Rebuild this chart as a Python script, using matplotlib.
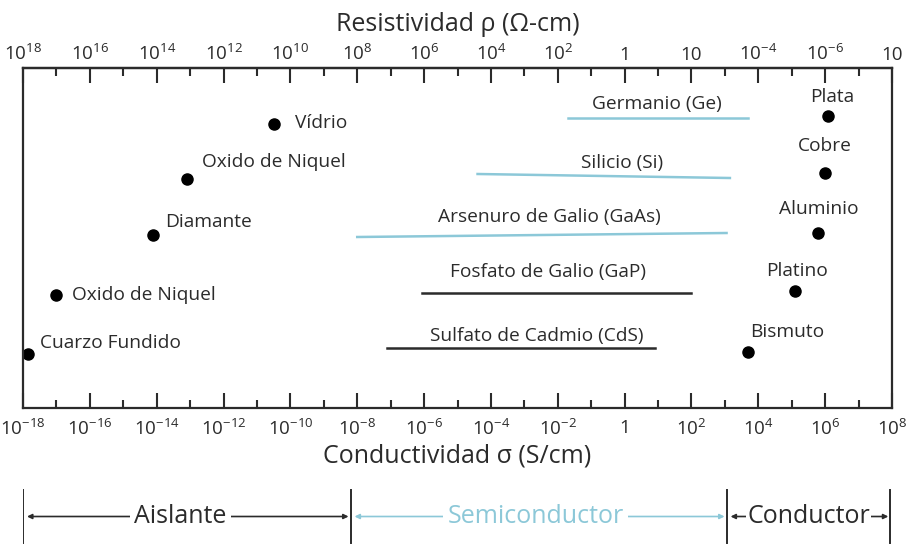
import numpy as np
import matplotlib
matplotlib.use("Agg")
import matplotlib.pyplot as plt

plt.rcParams['font.family'] = ['Open Sans', 'DejaVu Sans']
plt.rcParams['mathtext.fontset'] = 'custom'
plt.rcParams['mathtext.rm'] = 'Open Sans'
plt.rcParams['mathtext.it'] = 'Open Sans'
plt.rcParams['mathtext.bf'] = 'Open Sans'

#Data: log10 conductivity (S/cm) and row position (0 = top of box, 340 = bottom)
point_names = ['Vídrio', 'Oxido de Niquel', 'Diamante', 'Oxido de Niquel', 'Cuarzo Fundido',
               'Plata', 'Cobre', 'Aluminio', 'Platino', 'Bismuto']
point_x = [-10.5, -13.1, -14.1, -17.0, -17.85, 6.1, 6.0, 5.8, 5.1, 3.7]
point_y = [56, 111, 167, 227, 286, 48, 105, 165, 223, 284]
point_label_x = [-9.87, -12.65, -13.76, -16.54, -17.49, 6.2, 6.0, 5.8, 5.15, 4.85]
point_label_y = [55, 94, 154, 227, 275, 29, 78, 141, 203, 264]
point_label_ha = ['left'] * 5 + ['center'] * 5

band_names = ['Germanio (Ge)', 'Silicio (Si)', 'Arsenuro de Galio (GaAs)',
              'Fosfato de Galio (GaP)', 'Sulfato de Cadmio (CdS)']
band_start = [-1.7, -4.4, -8.0, -6.05, -7.1]
band_end = [3.7, 3.15, 3.05, 2.0, 0.9]
band_y_start = [50, 106, 169, 225, 280]
band_y_end = [50, 110, 165, 225, 280]
band_label_x = [0.98, -0.07, -2.25, -2.28, -2.64]
band_label_y = [36, 95, 149, 204, 268]
band_semi = [True, True, True, False, False]

bottom_ticks = list(range(-18, 9, 2))
bottom_labels = ['$10^{-18}$', '$10^{-16}$', '$10^{-14}$', '$10^{-12}$', '$10^{-10}$', '$10^{-8}$',
                 '$10^{-6}$', '$10^{-4}$', '$10^{-2}$', '1', '$10^{2}$', '$10^{4}$', '$10^{6}$', '$10^{8}$']
top_labels = ['$10^{18}$', '$10^{16}$', '$10^{14}$', '$10^{12}$', '$10^{10}$', '$10^{8}$', '$10^{6}$',
              '$10^{4}$', '$10^{2}$', '1', '10', '$10^{-4}$', '$10^{-6}$', '10']

regions = ['Aislante', 'Semiconductor', 'Conductor']
region_bounds = [-18, -8.2, 3.05, 7.95]
region_text_x = [-13.3, -2.67, 5.5]

blue = '#8cc8d8'
dark = '#2b2b2b'

fig = plt.figure(figsize=(9.15, 5.44), dpi=100)
ax = fig.add_axes([23/915, 1 - 408/544, 869/915, 340/544])
ax.set_xlim(-18, 8)
ax.set_ylim(340, 0)
for s in ax.spines.values():
    s.set_linewidth(1.6)
    s.set_color(dark)

ax.set_xticks(bottom_ticks, labels=bottom_labels)
ax.set_xticks(range(-17, 8, 2), minor=True)
ax.set_yticks([])
ax.tick_params(axis='x', which='major', direction='in', length=11, width=1.5, pad=8,
               labelsize=13.5, colors=dark)
ax.tick_params(axis='x', which='minor', direction='in', length=6, width=1.5, colors=dark)
ax.set_xlabel('Conductividad σ (S/cm)', fontsize=18, color=dark, labelpad=3)

top = ax.secondary_xaxis('top')
top.set_xticks(bottom_ticks, labels=top_labels)
top.set_xticks(range(-17, 8, 2), minor=True)
top.tick_params(axis='x', which='major', direction='in', length=11, width=1.5, pad=3,
                labelsize=13.5, colors=dark)
top.tick_params(axis='x', which='minor', direction='in', length=6, width=1.5, colors=dark)
top.spines['top'].set_linewidth(1.6)
top.set_xlabel('Resistividad ρ (Ω-cm)', fontsize=18, color=dark, labelpad=9)

#Points
ax.plot(point_x, point_y, 'o', color='black', markersize=8, clip_on=False)
for i in range(len(point_names)):
    ax.text(point_label_x[i], point_label_y[i], point_names[i], ha=point_label_ha[i],
            va='center', fontsize=13.8, color=dark)

#Bands
for i in range(len(band_names)):
    c = blue if band_semi[i] else dark
    ax.plot([band_start[i], band_end[i]], [band_y_start[i], band_y_end[i]], color=c, linewidth=1.8)
    ax.text(band_label_x[i], band_label_y[i], band_names[i], ha='center', va='center',
            fontsize=13.8, color=dark)

#Region brackets under the chart
rax = fig.add_axes([23/915, 0, 869/915, 55/544])
rax.set_xlim(-18, 8)
rax.set_ylim(0, 1)
rax.axis('off')
for b in region_bounds:
    rax.plot([b, b], [0.02, 0.98], color=dark, linewidth=1.4)
colors = [dark, blue, dark]
for i in range(3):
    x0 = region_bounds[i] + 0.12
    x1 = region_bounds[i + 1] - 0.06
    rax.annotate('', xy=(x0, 0.5), xytext=(x1, 0.5),
                 arrowprops=dict(arrowstyle='<|-|>', color=colors[i], lw=1.2,
                                 mutation_scale=7, shrinkA=0, shrinkB=0))
    rax.text(region_text_x[i], 0.5, regions[i], ha='center', va='center', fontsize=18,
             color=colors[i], bbox=dict(facecolor='white', edgecolor='none', pad=3 if i < 2 else 0.5))

fig.savefig('out.png', dpi=100)
